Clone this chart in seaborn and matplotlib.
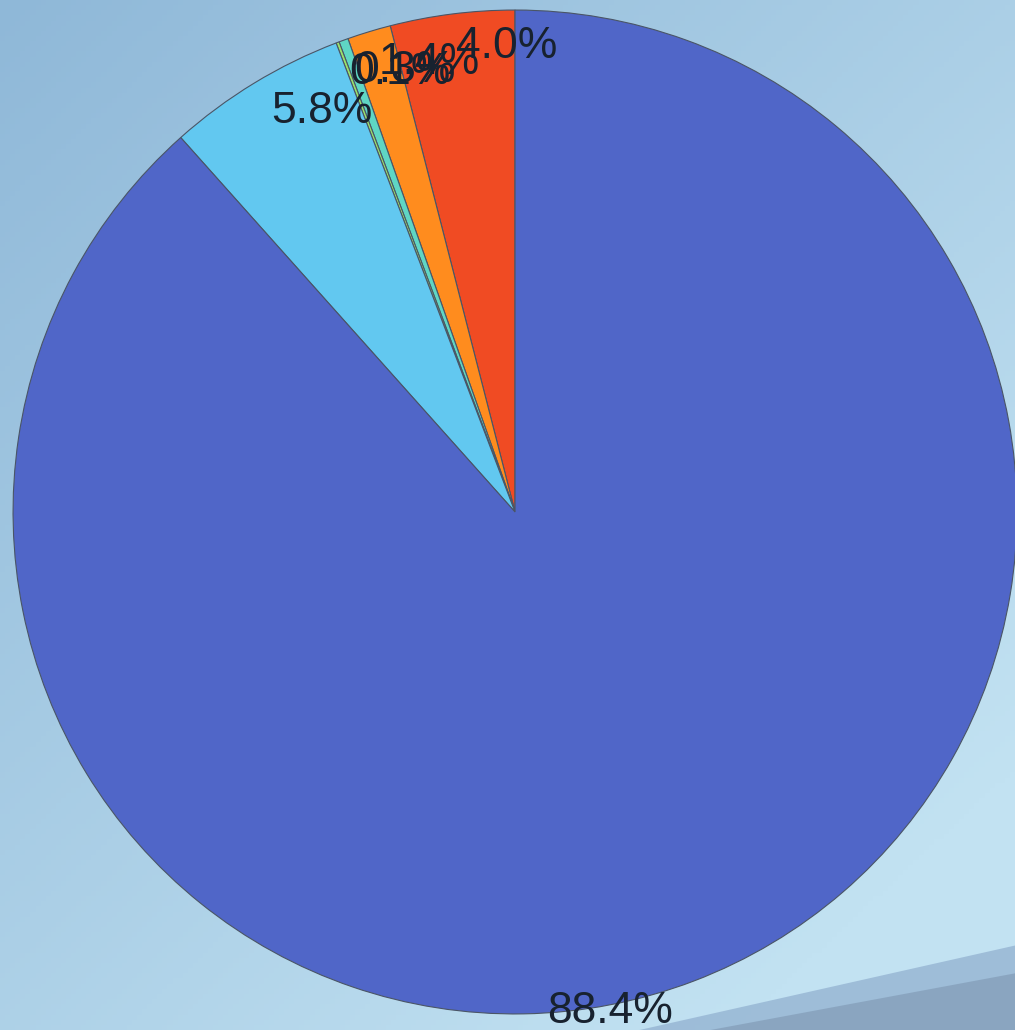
import numpy as np
import seaborn as sns
import matplotlib
matplotlib.use("Agg")
import matplotlib.pyplot as plt

# slice values (percent), counterclockwise from 12 o'clock
shares = [4.0, 1.4, 0.3, 0.1, 5.8, 88.4]
colors = ["#f04b23", "#ff8c1e", "#5fd6c4", "#9be36a", "#62c8f0", "#5066c8"]

sns.set_theme(style="white")
plt.rcParams["font.family"] = ["Liberation Sans", "DejaVu Sans"]

fig = plt.figure(figsize=(10.15, 10.30), dpi=100)

# background: soft blue gradient with a darker band bottom right
bg = fig.add_axes([0, 0, 1, 1], zorder=0)
gx, gy = np.meshgrid(np.linspace(0, 1, 200), np.linspace(0, 1, 200))
t = np.clip((gx * 0.55 + gy * 0.6), 0, 1)[..., None]
c0 = np.array([143, 184, 216]) / 255
c1 = np.array([194, 226, 242]) / 255
bg.imshow(c0 * (1 - t) + c1 * t, extent=[0, 1, 0, 1], origin="upper", aspect="auto")
bg.fill([0.63, 1, 1], [0.0, 0.082, 0.0], color="#9ab9d6", alpha=0.9, lw=0)
bg.fill([0.70, 1, 1], [0.0, 0.055, 0.0], color="#88a3be", alpha=0.9, lw=0)
bg.set_xlim(0, 1)
bg.set_ylim(0, 1)
bg.axis("off")

ax = fig.add_axes([0, 0, 1, 1], zorder=1)
ax.patch.set_alpha(0)
wedges, texts, autotexts = ax.pie(
    shares,
    colors=colors,
    startangle=90,
    counterclock=True,
    autopct="%1.1f%%",
    pctdistance=0.935,
    wedgeprops=dict(edgecolor="#4a5566", linewidth=0.8),
    textprops=dict(fontsize=32, color="#18222f"),
)
for t_ in autotexts:
    t_.set_ha("left")
    t_.set_va("center")
# largest slice label sits at the bottom rim
autotexts[-1].set_position((0.064, -0.996))

ax.set_xlim(-1.026, 0.996)
ax.set_ylim(-1.032, 1.02)
ax.set_aspect("auto")
ax.axis("off")

fig.savefig("out.png", dpi=100)
